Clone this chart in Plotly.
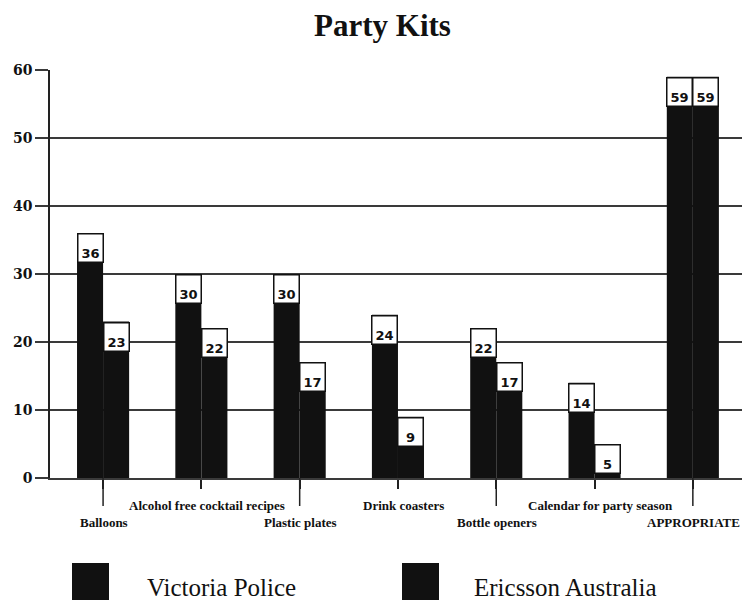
import plotly.graph_objects as go

# Survey results: preferred party-kit items
categories = [
    "Balloons",
    "Alcohol free cocktail recipes",
    "Plastic plates",
    "Drink coasters",
    "Bottle openers",
    "Calendar for party season",
    "APPROPRIATE",
]
series_names = ["Victoria Police", "Ericsson Australia"]
victoria_police = [36, 30, 30, 24, 22, 14, 59]
ericsson_australia = [23, 22, 17, 9, 17, 5, 59]
y_ticks = [0, 10, 20, 30, 40, 50, 60]

BAR_COLOR = "#111111"
GRID_COLOR = "#3a3a3a"
BARGAP = 0.47

x_idx = list(range(len(categories)))

fig = go.Figure()
for name, vals in zip(series_names, [victoria_police, ericsson_australia]):
    fig.add_trace(go.Bar(
        x=x_idx, y=vals, name=name,
        marker=dict(color=BAR_COLOR, line=dict(width=0)),
        showlegend=False,
    ))

# Boxed value labels sitting at the top of each bar
bar_w = (1 - BARGAP) / 2
annotations = []
for k, vals in enumerate([victoria_police, ericsson_australia]):
    off = -bar_w / 2 if k == 0 else bar_w / 2
    for i, v in enumerate(vals):
        annotations.append(dict(
            x=i + off, y=v, xref="x", yref="y",
            text=f"<b>{v}</b>", showarrow=False,
            xanchor="center", yanchor="top",
            width=22, height=25, valign="bottom",
            bgcolor="white", bordercolor="#111111",
            borderwidth=1.5, borderpad=1,
            font=dict(family="DejaVu Sans", size=13, color="#111111"),
        ))

# Staggered category labels under the axis
shapes = []
for i, cat in enumerate(categories):
    upper = (i % 2 == 1)
    annotations.append(dict(
        x=i, y=0, xref="x", yref="paper",
        text=f"<b>{cat}</b>", showarrow=False,
        xanchor="center", yanchor="middle",
        yshift=-27 if upper else -44,
        xshift=6 if upper else 1,
        font=dict(family="Liberation Serif", size=13, color="#111111"),
    ))
    if not upper:
        shapes.append(dict(
            type="line", xref="x", yref="paper",
            x0=i, x1=i, y0=0, y1=-28 / 408,
            line=dict(color="#222222", width=1.5),
        ))

# Legend drawn as large swatches with labels
legend_items = [(series_names[0], 72, 145), (series_names[1], 402, 472)]
for name, sx, tx in legend_items:
    shapes.append(dict(
        type="rect", xref="paper", yref="paper",
        x0=(sx - 50) / 692, x1=(sx + 37 - 50) / 692,
        y0=(478 - 563) / 408, y1=(478 - 602) / 408,
        fillcolor=BAR_COLOR, line=dict(width=0),
    ))
    annotations.append(dict(
        x=(tx - 50) / 692, y=(478 - 587) / 408,
        xref="paper", yref="paper",
        text=name, showarrow=False,
        xanchor="left", yanchor="middle",
        font=dict(family="Liberation Serif", size=25, color="#111111"),
    ))

fig.update_layout(
    width=747, height=600,
    margin=dict(l=50, r=5, t=70, b=122),
    paper_bgcolor="white", plot_bgcolor="white",
    barmode="group", bargap=BARGAP, bargroupgap=0,
    title=dict(
        text="<b>Party Kits</b>", x=0.512, xanchor="center",
        y=1 - 25 / 600, yanchor="middle",
        font=dict(family="Liberation Serif", size=31, color="#111111"),
    ),
    annotations=annotations,
    shapes=shapes,
)

fig.update_xaxes(
    range=[-0.54, 6.5],
    tickvals=x_idx, showticklabels=False,
    ticks="outside", ticklen=9, tickwidth=1.5, tickcolor="#222222",
    showline=True, linecolor=GRID_COLOR, linewidth=1.5,
    showgrid=False, zeroline=False,
)
fig.update_yaxes(
    range=[0, 60],
    tickvals=y_ticks, ticktext=[f"<b>{t}</b>" for t in y_ticks],
    ticks="outside", ticklen=13, tickwidth=1.5, tickcolor=GRID_COLOR,
    tickfont=dict(family="DejaVu Serif", size=14, color="#111111"),
    showgrid=True, gridcolor=GRID_COLOR, gridwidth=1.5,
    showline=True, linecolor="#222222", linewidth=1.5,
    zeroline=False,
)

fig.write_html("out.html")
